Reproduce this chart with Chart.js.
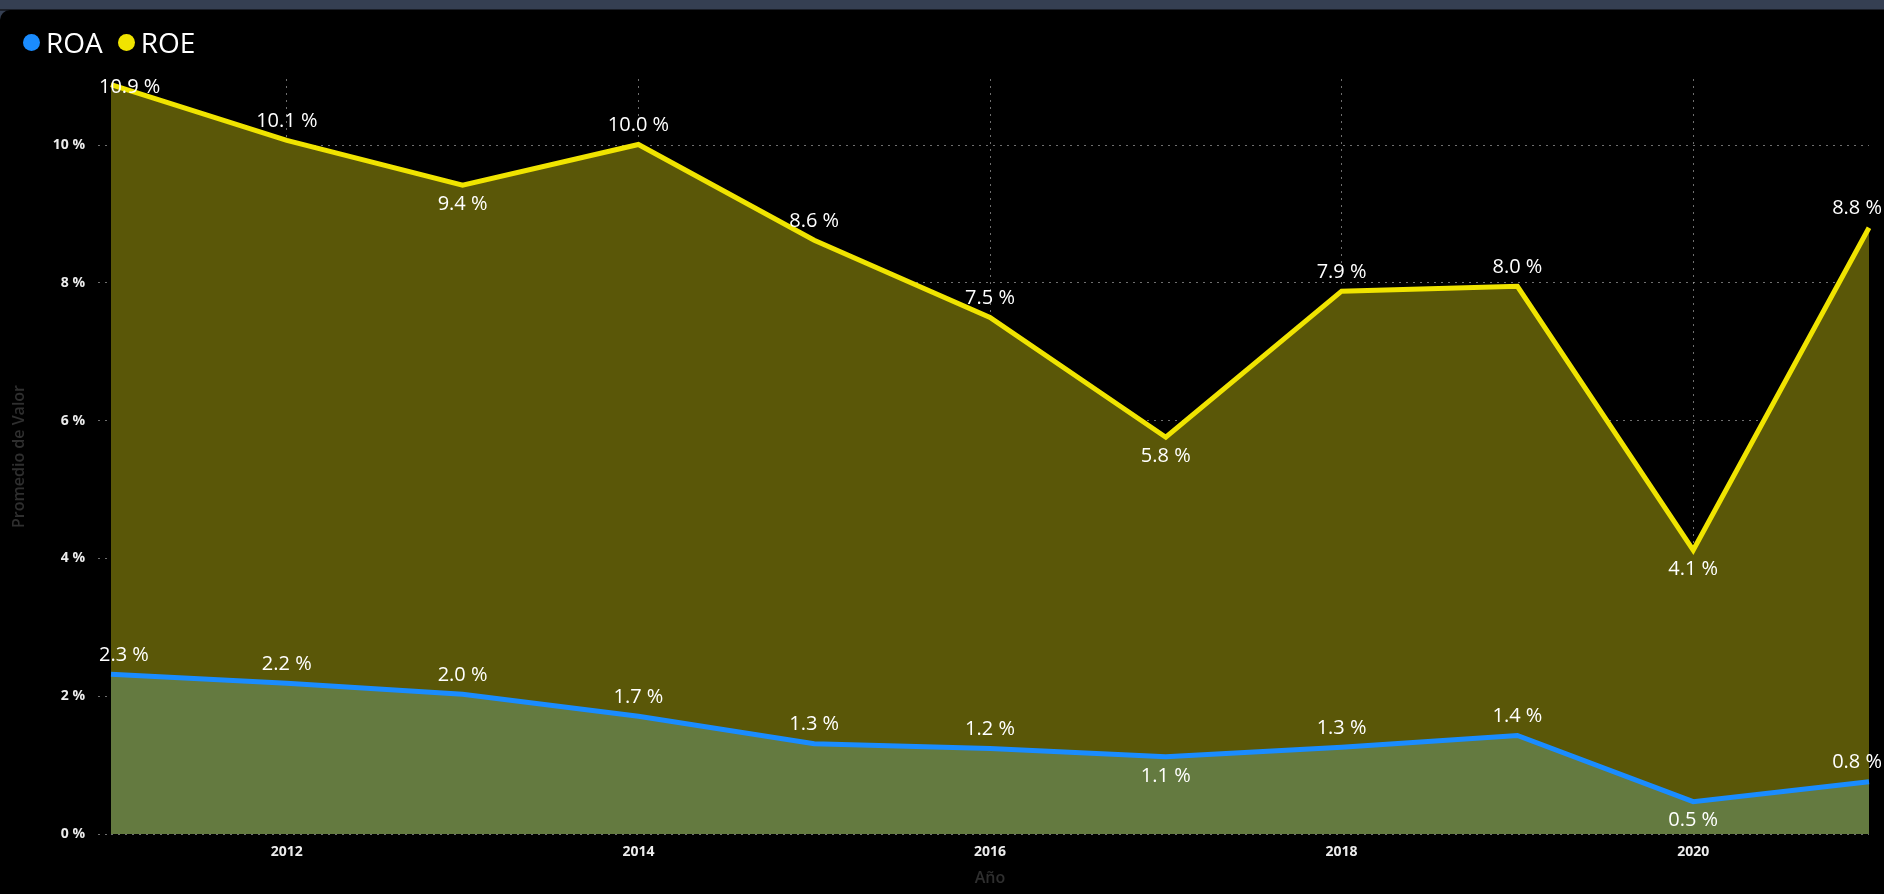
<!DOCTYPE html>
<html>
<head>
<meta charset="utf-8">
<script src="https://cdn.jsdelivr.net/npm/chart.js@4.4.1/dist/chart.umd.min.js"></script>
<style>
  html, body { margin: 0; padding: 0; background: #353f52; width: 1884px; height: 894px; overflow: hidden; }
  #band { position: absolute; left: 0; top: 9px; width: 1884px; height: 2px; background: #1b1f28; }
  #panel { position: absolute; left: 0; top: 10px; width: 1884px; height: 884px; background: #000; border-top-left-radius: 10px; overflow: hidden; }
  #chart { position: absolute; left: 0; top: 0; }
  #legend { position: absolute; left: 23px; top: 13px; font-family: 'Open Sans', sans-serif; font-size: 28px; color: #fff; display: flex; align-items: center; white-space: nowrap; }
  .item { display: flex; align-items: center; margin-right: 15px; }
  .dot { width: 17px; height: 17px; border-radius: 50%; margin-right: 6px; }
</style>
</head>
<body>
<div id="band"></div>
<div id="panel">
  <canvas id="chart" width="1884" height="884"></canvas>
  <div id="legend"></div>
</div>
<script>
const years = ['2011','2012','2013','2014','2015','2016','2017','2018','2019','2020','2021'];
const roa = [2.32, 2.19, 2.03, 1.71, 1.31, 1.24, 1.12, 1.26, 1.43, 0.47, 0.76];
const roe = [10.88, 10.07, 9.42, 10.01, 8.62, 7.50, 5.76, 7.88, 7.95, 4.12, 8.80];
const yTicks = [0, 2, 4, 6, 8, 10];
const yMax = 10.96;
const seriesNames = ['ROA', 'ROE'];
const lineColors = ['#1a8cff', '#f0e400'];
const fillColors = ['#647a40', '#5a5708'];

Chart.defaults.font.family = "'Open Sans', sans-serif";

// HTML legend
const legend = document.getElementById('legend');
seriesNames.forEach((n, i) => {
  const it = document.createElement('div'); it.className = 'item';
  const d = document.createElement('span'); d.className = 'dot'; d.style.background = lineColors[i];
  const t = document.createElement('span'); t.textContent = n;
  it.appendChild(d); it.appendChild(t); legend.appendChild(it);
});

const valueLabels = {
  id: 'valueLabels',
  afterDatasetsDraw(chart) {
    const ctx = chart.ctx, area = chart.chartArea;
    ctx.save();
    ctx.font = '500 20px "Open Sans", sans-serif';
    ctx.fillStyle = '#ffffff';
    ctx.textAlign = 'center';
    ctx.textBaseline = 'middle';
    chart.data.datasets.forEach((ds, di) => {
      const meta = chart.getDatasetMeta(di);
      meta.data.forEach((pt, i) => {
        const v = ds.data[i];
        const prev = ds.data[i - 1], next = ds.data[i + 1];
        const below = prev !== undefined && next !== undefined && v < prev && v < next;
        const text = v.toFixed(1) + ' %';
        const w = ctx.measureText(text).width;
        let x = pt.x;
        let y = pt.y + (below ? 19 : -19);
        x = Math.max(x, area.left - 12 + w / 2);
        x = Math.min(x, chart.width - 2 - w / 2);
        y = Math.max(y, area.top + 8);
        ctx.fillText(text, x, y);
      });
    });
    ctx.restore();
  }
};

const gridColor = 'rgba(170,170,170,0.65)';

new Chart(document.getElementById('chart'), {
  type: 'line',
  data: {
    labels: years,
    datasets: [
      { label: seriesNames[0], data: roa, borderColor: lineColors[0], backgroundColor: fillColors[0], fill: 'origin', borderWidth: 5, pointRadius: 0, tension: 0 },
      { label: seriesNames[1], data: roe, borderColor: lineColors[1], backgroundColor: fillColors[1], fill: 'origin', borderWidth: 5, pointRadius: 0, tension: 0 }
    ]
  },
  options: {
    responsive: false,
    animation: false,
    devicePixelRatio: 1,
    layout: { padding: { top: 69, right: 15, bottom: 0, left: 0 } },
    plugins: { legend: { display: false }, tooltip: { enabled: false } },
    scales: {
      x: {
        type: 'category',
        offset: false,
        afterBuildTicks(scale) {
          scale.ticks = scale.ticks.filter(t => Number(years[t.value]) % 2 === 0);
        },
        afterFit(scale) { scale.height = 60; },
        grid: { color: gridColor, drawTicks: false, lineWidth: 1 },
        border: { display: false, dash: [2, 5] },
        ticks: { color: '#ececec', font: { size: 14, weight: '700' }, padding: 10, autoSkip: false, maxRotation: 0 },
        title: { display: true, text: 'Año', color: '#2f2f2f', font: { size: 16, weight: '600' }, padding: { top: 0, bottom: 6 } }
      },
      y: {
        min: 0,
        max: yMax,
        afterBuildTicks(scale) { scale.ticks = yTicks.map(v => ({ value: v })); },
        afterFit(scale) { scale.width = 111; },
        grid: { color: gridColor, drawTicks: true, tickLength: 13, tickBorderDash: [2, 5], lineWidth: 1 },
        border: { display: false, dash: [2, 5] },
        ticks: { color: '#ececec', font: { size: 14, weight: '700' }, padding: 13, callback: v => v + ' %' },
        title: { display: true, text: 'Promedio de Valor', color: '#2f2f2f', font: { size: 16, weight: '600' }, padding: { top: 10, bottom: 0 } }
      }
    }
  },
  plugins: [valueLabels]
});
</script>
</body>
</html>
